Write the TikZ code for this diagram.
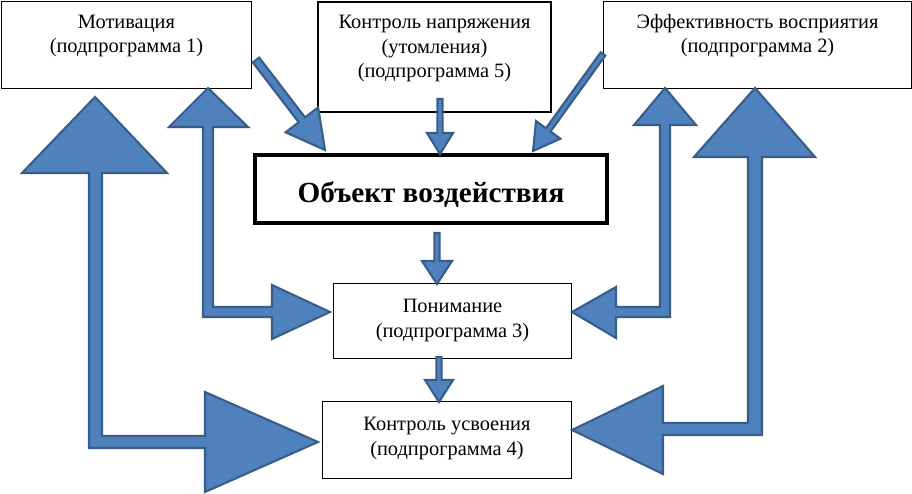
\documentclass[tikz,border=0pt]{standalone}
\usepackage{fontspec}
\setmainfont{Liberation Serif}
\usetikzlibrary{calc}
\definecolor{arrfill}{HTML}{4F81BD}
\definecolor{arrdraw}{HTML}{385D8A}
\tikzset{
  box/.style={draw=black, line width=1.6pt, fill=white, inner sep=0pt},
  mainbox/.style={draw=black, line width=3.6pt, fill=white, inner sep=0pt},
  txt/.style={anchor=base, inner sep=0pt, font=\fontsize{20.4}{24}\selectfont},
  blk/.style={fill=arrfill, draw=arrdraw, line width=2.1pt, line join=miter, miter limit=4},
}
\newcommand\barrow[5]{%
  \path (#1) coordinate (ba-s) (#2) coordinate (ba-t) ($(ba-t)!#5!(ba-s)$) coordinate (ba-b);
  \draw[blk] ($(ba-s)!#3!90:(ba-t)$) -- ($(ba-b)!#3!-90:(ba-s)$) -- ($(ba-b)!#4!-90:(ba-s)$) -- (ba-t) -- ($(ba-b)!#4!90:(ba-s)$) -- ($(ba-b)!#3!90:(ba-s)$) -- ($(ba-s)!#3!-90:(ba-t)$) -- cycle;}
\begin{document}
\begin{tikzpicture}[x=1pt,y=-1pt]
\useasboundingbox[fill=white] (0,0) rectangle (912,494);
% boxes
\node[box, minimum width=250pt, minimum height=87pt] (mot) at (126.5,45) {};
\node[box, minimum width=233pt, minimum height=110pt] (kn) at (434.5,57) {};
\node[box, minimum width=308pt, minimum height=87pt] (eff) at (757.5,45) {};
\node[mainbox, minimum width=352pt, minimum height=68pt] (obj) at (431,189) {};
\node[box, minimum width=238pt, minimum height=75pt] (pon) at (452.5,321) {};
\node[box, minimum width=249pt, minimum height=77pt] (ku) at (447,440) {};
% texts
\node[txt] (mot1) at (126.5,29) {Мотивация};
\node[txt] (mot2) at (126.5,53) {(подпрограмма 1)};
\node[txt] (kn1) at (434.5,29) {Контроль напряжения};
\node[txt] (kn2) at (434.5,54) {(утомления)};
\node[txt] (kn3) at (434.5,78) {(подпрограмма 5)};
\node[txt] (eff1) at (757.5,29) {Эффективность восприятия};
\node[txt] (eff2) at (757.5,53) {(подпрограмма 2)};
\node[txt, font=\fontsize{29.2}{32}\bfseries] (obj1) at (431,203) {Объект воздействия};
\node[txt] (pon1) at (452.5,312) {Понимание};
\node[txt] (pon2) at (452.5,337) {(подпрограмма 3)};
\node[txt] (ku1) at (447,430) {Контроль усвоения};
\node[txt] (ku2) at (447,455) {(подпрограмма 4)};
% straight block arrows
\barrow{256,60}{325,150}{4pt}{20.5pt}{38pt}
\barrow{603,54}{533,151}{2.8pt}{15pt}{26pt}
\barrow{440,99}{440,154}{2.6pt}{13pt}{21pt}
\barrow{437,233}{437,284}{2.6pt}{15pt}{23pt}
\barrow{439,357}{439,402}{2.6pt}{14pt}{22pt}
% elbow double block arrows
\draw[blk] (95,97) -- (167,173) -- (102,173) -- (102,436) -- (205,436) -- (205,392) -- (318,442) -- (205,492) -- (205,448) -- (89,448) -- (89,173) -- (22,173) -- cycle;
\draw[blk] (208,88) -- (248,127) -- (213,127) -- (213,307) -- (272,307) -- (272,285) -- (330,312) -- (272,339) -- (272,317) -- (203,317) -- (203,127) -- (169,127) -- cycle;
\draw[blk] (665,88) -- (696,125) -- (670,125) -- (670,317) -- (616,317) -- (616,338) -- (572,312) -- (616,287) -- (616,307) -- (660,307) -- (660,125) -- (634,125) -- cycle;
\draw[blk] (755,88) -- (815,157) -- (762,157) -- (762,435) -- (663,435) -- (663,474) -- (572,430) -- (663,386) -- (663,423) -- (748,423) -- (748,157) -- (694,157) -- cycle;
\end{tikzpicture}
\end{document}
